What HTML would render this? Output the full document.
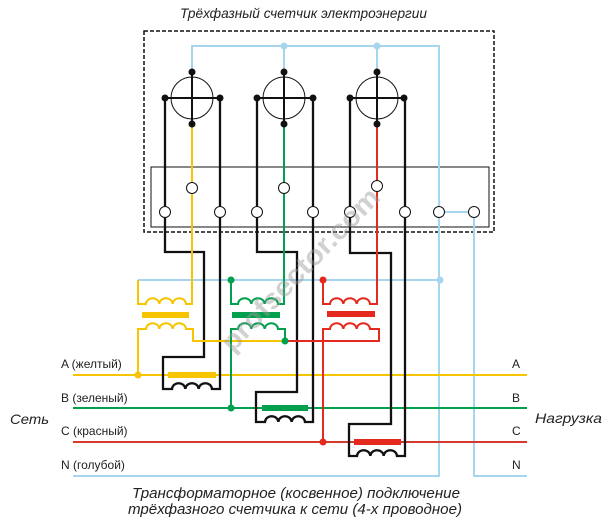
<!DOCTYPE html>
<html><head><meta charset="utf-8"><style>
html,body{margin:0;padding:0;background:#fff;}
svg{display:block;}
text{font-family:"Liberation Sans","DejaVu Sans",sans-serif;fill:#222;}
</style></head><body>
<svg width="606" height="522" viewBox="0 0 606 522" xmlns="http://www.w3.org/2000/svg">
<rect width="606" height="522" fill="#fff"/>
<!-- title -->
<text x="180" y="18" font-size="14" font-style="italic" textLength="247" lengthAdjust="spacingAndGlyphs">Трёхфазный счетчик электроэнергии</text>

<!-- dashed box -->
<rect x="144" y="31" width="350" height="201" fill="none" stroke="#111" stroke-width="1.5" stroke-dasharray="4,2"/>
<rect x="151" y="167" width="338" height="60" fill="none" stroke="#111" stroke-width="1"/>

<!-- blue neutral lines -->
<g fill="none" stroke="#a6d6ee" stroke-width="2">
<path d="M192,72 V46 H439 V476 H73"/>
<path d="M284,46 V72 M377,46 V72"/>
<path d="M439,212 H474 V476 H527"/>
<path d="M138,280 H439"/>
</g>

<!-- phase lines -->
<g fill="none" stroke-width="2">
<path d="M73,375 H527" stroke="#f6c500"/>
<path d="M73,408 H527" stroke="#00a04e"/>
<path d="M73,442 H527" stroke="#d63a2c"/>
</g>

<!-- black current circuits -->
<g fill="none" stroke="#111" stroke-width="2.3">
<path d="M165,98 V252 H204 V357 H163 V389 H172 a6.67,6 0 0 1 13.33,0 a6.67,6 0 0 1 13.33,0 a6.67,6 0 0 1 13.33,0 H220 V98"/>
<path d="M257,98 V252 H297 V392 H256 V422 H265 a6.67,6 0 0 1 13.33,0 a6.67,6 0 0 1 13.33,0 a6.67,6 0 0 1 13.33,0 H313 V98"/>
<path d="M350,98 V253 H391 V424 H349 V456 H357 a6.67,6 0 0 1 13.33,0 a6.67,6 0 0 1 13.33,0 a6.67,6 0 0 1 13.33,0 H405 V98"/>
</g>

<!-- voltage transformers -->
<g fill="none" stroke-width="2">
<path stroke="#f6c500" d="M138,280 V304 H146 a6.67,6 0 0 1 13.33,0 a6.67,6 0 0 1 13.33,0 a6.67,6 0 0 1 13.33,0 H192 V124"/>
<path stroke="#f6c500" d="M138,375 V329 H146 a6.67,6 0 0 1 13.33,0 a6.67,6 0 0 1 13.33,0 a6.67,6 0 0 1 13.33,0 H193 V341 H285"/>
<path stroke="#00a04e" d="M231,280 V304 H238 a6.67,6 0 0 1 13.33,0 a6.67,6 0 0 1 13.33,0 a6.67,6 0 0 1 13.33,0 H284 V124"/>
<path stroke="#00a04e" d="M231,408 V329 H238 a6.67,6 0 0 1 13.33,0 a6.67,6 0 0 1 13.33,0 a6.67,6 0 0 1 13.33,0 H285 V341"/>
<path stroke="#e42a1e" d="M323,280 V304 H330 a6.67,6 0 0 1 13.33,0 a6.67,6 0 0 1 13.33,0 a6.67,6 0 0 1 13.33,0 H377 V124"/>
<path stroke="#e42a1e" d="M323,442 V329 H330 a6.67,6 0 0 1 13.33,0 a6.67,6 0 0 1 13.33,0 a6.67,6 0 0 1 13.33,0 H379 V341 H285"/>
</g>

<!-- cores -->
<rect x="142" y="312" width="47" height="6" fill="#f6c500"/>
<rect x="232" y="312" width="48" height="6" fill="#00a04e"/>
<rect x="327" y="311" width="48" height="6" fill="#e42a1e"/>
<rect x="168" y="372" width="48" height="6" fill="#f6c500"/>
<rect x="262" y="405" width="46" height="6" fill="#00a04e"/>
<rect x="354" y="439" width="47" height="6" fill="#e42a1e"/>

<!-- dots -->
<circle cx="138" cy="375" r="3.5" fill="#f6c500"/>
<circle cx="231" cy="408" r="3.5" fill="#00a04e"/>
<circle cx="323" cy="442" r="3.5" fill="#e42a1e"/>
<circle cx="231" cy="280" r="3.5" fill="#00a04e"/>
<circle cx="323" cy="280" r="3.5" fill="#e42a1e"/>
<circle cx="285" cy="341" r="3.5" fill="#00a04e"/>
<circle cx="284" cy="46" r="3.5" fill="#a6d6ee"/>
<circle cx="377" cy="46" r="3.5" fill="#a6d6ee"/>
<circle cx="440" cy="280" r="3.5" fill="#a6d6ee"/>

<!-- meters -->
<g fill="none" stroke="#111">
<circle cx="192" cy="98" r="21" stroke-width="1"/>
<circle cx="284" cy="98" r="21" stroke-width="1"/>
<circle cx="377" cy="98" r="21" stroke-width="1"/>
<path stroke-width="2" d="M165,98 H220 M192,72 V124 M257,98 H313 M284,72 V124 M350,98 H404 M377,72 V124"/>
</g>
<g fill="#111">
<circle cx="165" cy="98" r="3.5"/><circle cx="220" cy="98" r="3.5"/><circle cx="192" cy="72" r="3.5"/><circle cx="192" cy="124" r="3.5"/>
<circle cx="257" cy="98" r="3.5"/><circle cx="313" cy="98" r="3.5"/><circle cx="284" cy="72" r="3.5"/><circle cx="284" cy="124" r="3.5"/>
<circle cx="350" cy="98" r="3.5"/><circle cx="404" cy="98" r="3.5"/><circle cx="377" cy="72" r="3.5"/><circle cx="377" cy="124" r="3.5"/>
</g>

<!-- terminals -->
<g fill="#fff" stroke="#111" stroke-width="1">
<circle cx="192" cy="188" r="5.5"/><circle cx="284" cy="188" r="5.5"/><circle cx="377" cy="186" r="5.5"/>
<circle cx="165" cy="212" r="5.5"/><circle cx="220" cy="212" r="5.5"/><circle cx="257" cy="212" r="5.5"/><circle cx="313" cy="212" r="5.5"/>
<circle cx="350" cy="212" r="5.5"/><circle cx="405" cy="212" r="5.5"/><circle cx="439" cy="212" r="5.5"/><circle cx="474" cy="212" r="5.5"/>
</g>

<!-- left labels -->
<g font-size="12">
<text x="61" y="368">A (желтый)</text>
<text x="61" y="402">B (зеленый)</text>
<text x="61" y="435">C (красный)</text>
<text x="61" y="469">N (голубой)</text>
<text x="512" y="368">A</text>
<text x="512" y="402">B</text>
<text x="512" y="435">C</text>
<text x="512" y="469">N</text>
</g>
<text x="10" y="424" font-size="14" font-style="italic" textLength="39" lengthAdjust="spacingAndGlyphs">Сеть</text>
<text x="535" y="423" font-size="14" font-style="italic" textLength="67" lengthAdjust="spacingAndGlyphs">Нагрузка</text>

<!-- bottom caption -->
<text x="132" y="498" font-size="14.5" font-style="italic" textLength="328" lengthAdjust="spacingAndGlyphs">Трансформаторное (косвенное) подключение</text>
<text x="128" y="514" font-size="14.5" font-style="italic" textLength="334" lengthAdjust="spacingAndGlyphs">трёхфазного счетчика к сети (4-х проводное)</text>

<!-- watermark -->
<text x="0" y="0" transform="translate(307,276) rotate(-46)" font-size="28" font-weight="bold" text-anchor="middle" textLength="215" lengthAdjust="spacingAndGlyphs" style="fill:#9a9a9a;opacity:0.45">profsector.com</text>
</svg>
</body></html>
